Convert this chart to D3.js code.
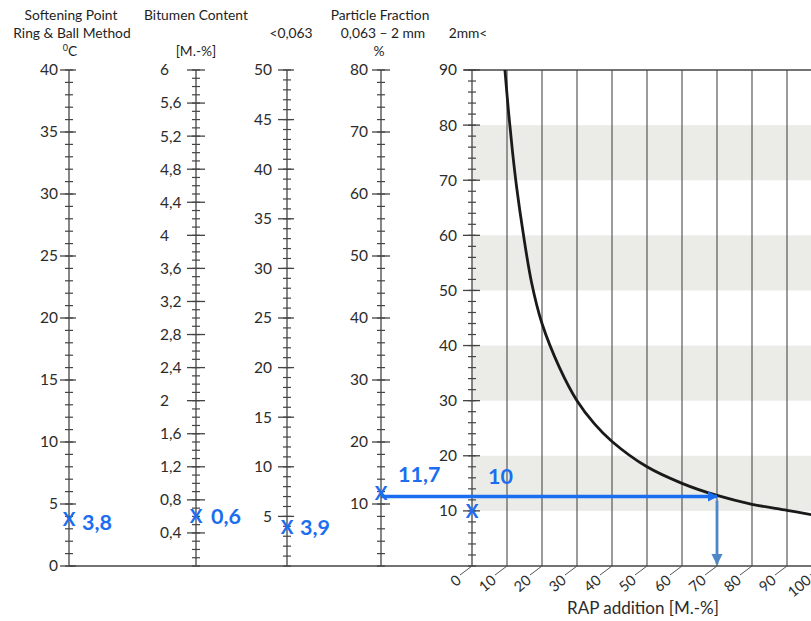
<!DOCTYPE html>
<html>
<head>
<meta charset="utf-8">
<script src="https://cdn.jsdelivr.net/npm/d3@7"></script>
<style>
  body { margin: 0; background: #fff; }
  text { font-family: Lato, "Open Sans", sans-serif; }
</style>
</head>
<body>
<script>
/* tick labels of the five nomogram scales */
var softLabels   = [0, 5, 10, 15, 20, 25, 30, 35, 40];
var bitLabels    = [0.4, 0.8, 1.2, 1.6, 2, 2.4, 2.8, 3.2, 3.6, 4, 4.4, 4.8, 5.2, 5.6, 6];
var fineLabels   = [5, 10, 15, 20, 25, 30, 35, 40, 45, 50];
var midLabels    = [10, 20, 30, 40, 50, 60, 70, 80];
var coarseLabels = [10, 20, 30, 40, 50, 60, 70, 80, 90];
var rapLabels    = [0, 10, 20, 30, 40, 50, 60, 70, 80, 90, 100];

/* curve: RAP addition vs. 2mm< fraction */
var curveRap    = [9.4, 10.5, 11.6, 12.8, 14.6, 17, 20, 25, 30, 35, 40, 50, 60, 70, 80, 90, 97];
var curveCoarse = [90, 82, 75, 68.5, 60.5, 51.5, 44, 36, 30, 25.8, 22.6, 18, 15, 12.8, 11.2, 10.1, 9.3];

/* shaded bands on the 2mm< scale */
var bandFrom = [10, 30, 50, 70];
var bandSize = 10;

/* read values marked on each scale */
var markValues = [3.8, 0.6, 3.9, 11.7, 10];
var markTexts  = ["3,8", "0,6", "3,9", "11,7", "10"];

/* result read-off */
var resultRap = 70, resultCoarse = 12.6;

var width = 811, height = 621,
    yTop = 70, yBottom = 566,
    blue = "#1c6ef0", ink = "#444";

var svg = d3.select("body").append("svg")
    .attr("width", width)
    .attr("height", height);

var fmt = function(d) { return String(d).replace(".", ","); };

var axes = [
  { x: 69,  max: 40, step: 1,   labels: softLabels,   anchor: "end",   lx: -11, l: 4, r: 4, ml: 9,  mr: 7,  mdx: 13, mdy: 3 },
  { x: 196, max: 6,  step: 0.1, labels: bitLabels,    anchor: "start", lx: -36, l: 4, r: 4, ml: 9,  mr: 9,  mdx: 15, mdy: 0 },
  { x: 287, max: 50, step: 1,   labels: fineLabels,   anchor: "end",   lx: -15, l: 4, r: 4, ml: 9,  mr: 7,  mdx: 13, mdy: 0 },
  { x: 381, max: 80, step: 2,   labels: midLabels,    anchor: "end",   lx: -13, l: 4, r: 4, ml: 9,  mr: 9,  mdx: 17, mdy: -19 },
  { x: 472, max: 90, step: 2,   labels: coarseLabels, anchor: "end",   lx: -15, l: 4, r: 4, ml: 9,  mr: 8,  mdx: 16, mdy: -35 }
];

axes.forEach(function(a) {
  a.y = d3.scaleLinear().domain([0, a.max]).range([yBottom, yTop]);
});

var coarseY = axes[4].y;
var rapX = d3.scaleLinear().domain([0, 100]).range([472, 822]);

/* bands */
svg.append("g")
  .selectAll("rect")
  .data(bandFrom)
  .enter().append("rect")
    .attr("x", rapX(0))
    .attr("y", function(d) { return coarseY(d + bandSize); })
    .attr("width", width - rapX(0))
    .attr("height", function(d) { return coarseY(d) - coarseY(d + bandSize); })
    .attr("fill", "#ebebe8");

/* vertical grid lines */
svg.append("g")
  .selectAll("line")
  .data(rapLabels.slice(1))
  .enter().append("line")
    .attr("x1", function(d) { return rapX(d); })
    .attr("x2", function(d) { return rapX(d); })
    .attr("y1", yTop)
    .attr("y2", yBottom)
    .attr("stroke", "#4a4a4a")
    .attr("stroke-width", 1.1);

/* frame lines */
svg.append("line")
    .attr("x1", rapX(0) - 8).attr("x2", width)
    .attr("y1", yTop).attr("y2", yTop)
    .attr("stroke", ink).attr("stroke-width", 1.3);
svg.append("line")
    .attr("x1", axes[0].x).attr("x2", width)
    .attr("y1", yBottom).attr("y2", yBottom)
    .attr("stroke", ink).attr("stroke-width", 1.3);

/* the scales */
axes.forEach(function(a) {
  var g = svg.append("g");
  var n = Math.round(a.max / a.step);
  var minor = d3.range(0, n + 1).map(function(i) { return +(i * a.step).toFixed(2); });

  g.append("line")
    .attr("x1", a.x).attr("x2", a.x)
    .attr("y1", yTop).attr("y2", yBottom)
    .attr("stroke", ink).attr("stroke-width", 1.3);

  g.selectAll(".minor")
    .data(minor)
    .enter().append("line")
      .attr("class", "minor")
      .attr("x1", a.x - a.l).attr("x2", a.x + a.r)
      .attr("y1", function(d) { return a.y(d); })
      .attr("y2", function(d) { return a.y(d); })
      .attr("stroke", ink).attr("stroke-width", 1.2);

  g.selectAll(".major")
    .data(a.labels)
    .enter().append("line")
      .attr("class", "major")
      .attr("x1", a.x - a.ml).attr("x2", a.x + a.mr)
      .attr("y1", function(d) { return a.y(d); })
      .attr("y2", function(d) { return a.y(d); })
      .attr("stroke", ink).attr("stroke-width", 1.3);

  g.selectAll("text")
    .data(a.labels)
    .enter().append("text")
      .attr("x", a.x + a.lx)
      .attr("y", function(d) { return a.y(d); })
      .attr("dy", "0.35em")
      .attr("text-anchor", a.anchor)
      .attr("font-size", 15.5)
      .attr("fill", "#2b2b2b")
      .text(fmt);
});

/* RAP axis labels */
var xt = svg.append("g")
  .selectAll("g")
  .data(rapLabels)
  .enter().append("g")
    .attr("transform", function(d) { return "translate(" + rapX(d) + "," + yBottom + ")"; });

xt.append("line")
    .attr("x1", 0).attr("y1", 0)
    .attr("x2", -12).attr("y2", 9)
    .attr("stroke", "#555").attr("stroke-width", 1);

xt.append("text")
    .attr("transform", "translate(-13,12) rotate(-40)")
    .attr("text-anchor", "end")
    .attr("dy", "0.35em")
    .attr("font-size", 14.5)
    .attr("fill", "#2b2b2b")
    .text(function(d) { return d; });

svg.append("text")
    .attr("x", 643).attr("y", 614)
    .attr("text-anchor", "middle")
    .attr("font-size", 17)
    .attr("fill", "#2b2b2b")
    .text("RAP addition [M.-%]");

/* curve */
var curvePts = curveRap.map(function(d, i) { return [d, curveCoarse[i]]; });
var line = d3.line()
    .x(function(d) { return rapX(d[0]); })
    .y(function(d) { return coarseY(d[1]); })
    .curve(d3.curveCatmullRom.alpha(0.5));

svg.append("path")
    .datum(curvePts)
    .attr("d", line)
    .attr("fill", "none")
    .attr("stroke", "#1a1a1a")
    .attr("stroke-width", 2.8);

/* arrows */
var defs = svg.append("defs");
defs.append("marker")
    .attr("id", "headH")
    .attr("viewBox", "0 0 10 10")
    .attr("refX", 9).attr("refY", 5)
    .attr("markerWidth", 3).attr("markerHeight", 3)
    .attr("orient", "auto")
  .append("path").attr("d", "M0,0L10,5L0,10z").attr("fill", blue);
defs.append("marker")
    .attr("id", "headV")
    .attr("viewBox", "0 0 10 10")
    .attr("refX", 9).attr("refY", 5)
    .attr("markerWidth", 4).attr("markerHeight", 4)
    .attr("orient", "auto")
  .append("path").attr("d", "M0,0L10,5L0,10z").attr("fill", "#4f86c6");

svg.append("line")
    .attr("x1", axes[3].x).attr("x2", rapX(resultRap))
    .attr("y1", coarseY(resultCoarse)).attr("y2", coarseY(resultCoarse))
    .attr("stroke", blue).attr("stroke-width", 3.4)
    .attr("marker-end", "url(#headH)");

svg.append("line")
    .attr("x1", rapX(resultRap)).attr("x2", rapX(resultRap))
    .attr("y1", coarseY(resultCoarse) + 4).attr("y2", yBottom - 2)
    .attr("stroke", "#4f86c6").attr("stroke-width", 2.8)
    .attr("marker-end", "url(#headV)");

/* markers */
axes.forEach(function(a, i) {
  var y = a.y(markValues[i]);
  svg.append("text")
      .attr("x", a.x).attr("y", y)
      .attr("dy", "0.36em")
      .attr("text-anchor", "middle")
      .attr("font-size", 19)
      .attr("font-weight", "bold")
      .attr("fill", blue)
      .text("X");
  svg.append("text")
      .attr("x", a.x + a.mdx).attr("y", y + a.mdy)
      .attr("dy", "0.36em")
      .attr("font-size", 21.5)
      .attr("font-weight", "bold")
      .attr("fill", blue)
      .text(markTexts[i]);
});

/* headers */
var heads = [
  { x: 71,  y: 20, t: "Softening Point" },
  { x: 72,  y: 38, t: "Ring & Ball Method" },
  { x: 196, y: 20, t: "Bitumen Content" },
  { x: 196, y: 56, t: "[M.-%]" },
  { x: 291, y: 38, t: "<0,063" },
  { x: 380, y: 20, t: "Particle Fraction" },
  { x: 383, y: 38, t: "0,063 \u2013 2 mm" },
  { x: 379, y: 56, t: "%" },
  { x: 468, y: 38, t: "2mm<" }
];
svg.append("g")
  .selectAll("text")
  .data(heads)
  .enter().append("text")
    .attr("x", function(d) { return d.x; })
    .attr("y", function(d) { return d.y; })
    .attr("text-anchor", "middle")
    .attr("font-size", 13.8)
    .attr("fill", "#1e1e1e")
    .text(function(d) { return d.t; });

var deg = svg.append("text")
    .attr("x", 70).attr("y", 56)
    .attr("text-anchor", "middle")
    .attr("font-size", 13.8)
    .attr("fill", "#1e1e1e");
deg.append("tspan").attr("font-size", 9).attr("dy", -5).text("0");
deg.append("tspan").attr("dy", 5).text("C");
</script>
</body>
</html>
